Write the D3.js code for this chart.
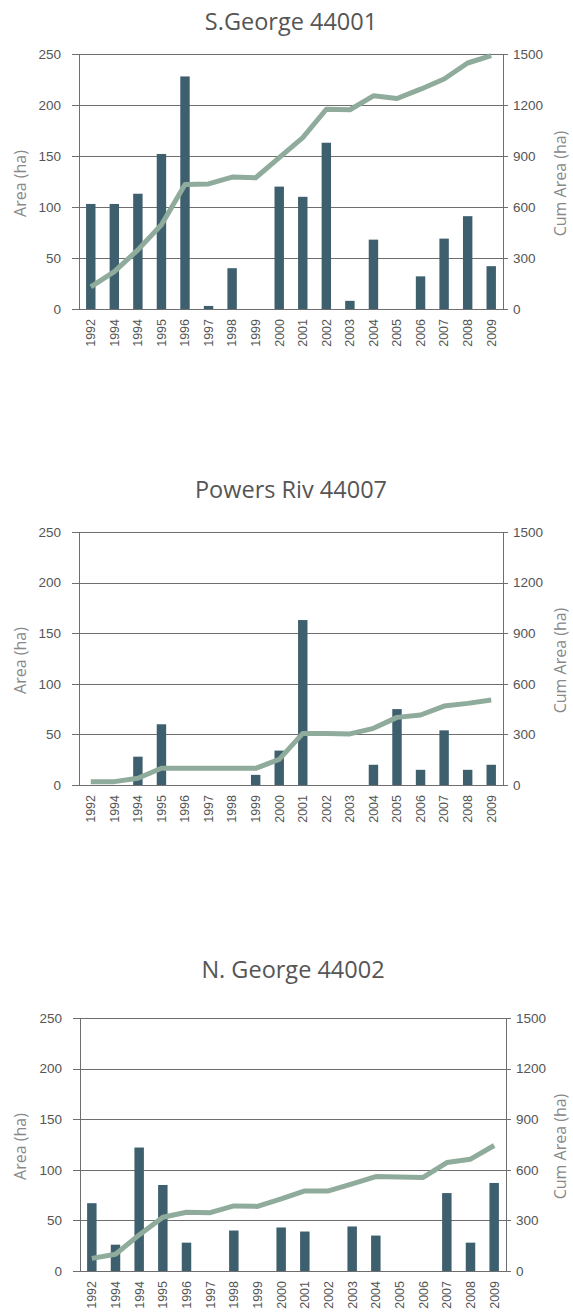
<!DOCTYPE html>
<html>
<head>
<meta charset="utf-8">
<script src="https://cdn.jsdelivr.net/npm/d3@7"></script>
<style>
  body { margin: 0; background: #fff; }
  svg { display: block; font-family: "Open Sans", sans-serif; }
</style>
</head>
<body>
<svg id="chart" width="573" height="1314"></svg>
<script>
// year labels (1994 appears twice in the original)
var years = ["1992","1994","1994","1995","1996","1997","1998","1999","2000",
             "2001","2002","2003","2004","2005","2006","2007","2008","2009"];

var titles = ["S.George 44001", "Powers Riv 44007", "N. George 44002"];

var areaSG = [103,103,113,152,228,3,40,0,120,110,163,8,68,0,32,69,91,42];
var cumSG  = [130,220,348,496,732,736,776,772,890,1008,1175,1172,1254,1238,1293,1353,1447,1490];

var areaPR = [0,0,28,60,0,0,0,10,34,163,0,0,20,75,15,54,15,20];
var cumPR  = [20,20,40,99,99,99,99,99,152,306,306,303,336,401,415,468,484,504];

var areaNG = [67,26,122,85,28,0,40,0,43,39,0,44,35,0,0,77,28,87];
var cumNG  = [75,99,214,319,348,346,386,383,427,475,475,516,560,557,555,643,663,744];

var areaTicks = [0,50,100,150,200,250];
var cumTicks  = [0,300,600,900,1200,1500];

var barColor = "#3d5f6e", lineColor = "#8fab9b";

var svg = d3.select("#chart");

function panel(title, area, cum, left, right, top, bottom, titleY) {
    var g = svg.append("g");
    var w = right - left;

    var x = d3.scaleBand()
        .domain(d3.range(years.length))
        .range([left, right])
        .paddingInner(0.6)
        .paddingOuter(0.3);
    var y = d3.scaleLinear().domain([0, 250]).range([bottom, top]);
    var y2 = d3.scaleLinear().domain([0, 1500]).range([bottom, top]);

    g.append("text")
        .attr("x", (left + right) / 2)
        .attr("y", titleY)
        .attr("text-anchor", "middle")
        .attr("font-size", 23.5)
        .attr("fill", "#555")
        .text(title);

    // gridlines + left tick labels
    var grid = g.append("g")
        .attr("transform", "translate(" + (left - 7) + ",0)")
        .call(d3.axisLeft(y).tickValues(areaTicks).tickSize(-(w + 12)).tickPadding(11));
    grid.select(".domain").remove();
    grid.selectAll("line").attr("stroke", "#6e6e6e").attr("shape-rendering", "crispEdges");
    grid.selectAll("text").attr("fill", "#555").attr("font-size", 13.5);

    // right tick labels
    var ra = g.append("g")
        .attr("transform", "translate(" + (right + 5) + ",0)")
        .call(d3.axisRight(y2).tickValues(cumTicks).tickSize(0).tickPadding(5)
            .tickFormat(d3.format("d")));
    ra.select(".domain").remove();
    ra.selectAll("text").attr("fill", "#555").attr("font-size", 13.5);

    // vertical axis lines
    g.append("line").attr("x1", left).attr("x2", left).attr("y1", top).attr("y2", bottom)
        .attr("stroke", "#6e6e6e").attr("shape-rendering", "crispEdges");
    g.append("line").attr("x1", right).attr("x2", right).attr("y1", top).attr("y2", bottom)
        .attr("stroke", "#6e6e6e").attr("shape-rendering", "crispEdges");

    // bottom labels
    var xa = g.append("g")
        .attr("transform", "translate(0," + bottom + ")")
        .call(d3.axisBottom(x).tickSize(0).tickFormat(function (i) { return years[i]; }));
    xa.select(".domain").remove();
    xa.selectAll("text")
        .attr("transform", "rotate(-90)")
        .attr("x", -10)
        .attr("y", 0)
        .attr("dy", "0.35em")
        .attr("text-anchor", "end")
        .attr("fill", "#555")
        .attr("font-size", 12.5);

    // bars
    g.selectAll(".bar")
        .data(area)
        .enter()
        .append("rect")
        .attr("class", "bar")
        .attr("x", function (d, i) { return x(i); })
        .attr("width", x.bandwidth())
        .attr("y", function (d) { return y(d); })
        .attr("height", function (d) { return bottom - y(d); })
        .attr("fill", barColor);

    // cumulative line
    var line = d3.line()
        .x(function (d, i) { return x(i) + x.bandwidth() / 2; })
        .y(function (d) { return y2(d); });
    g.append("path")
        .datum(cum)
        .attr("d", line)
        .attr("fill", "none")
        .attr("stroke", lineColor)
        .attr("stroke-width", 5)
        .attr("stroke-linejoin", "round");

    // axis titles
    var mid = (top + bottom) / 2 + 2;
    g.append("text")
        .attr("transform", "translate(20," + mid + ") rotate(-90)")
        .attr("text-anchor", "middle")
        .attr("dy", "0.35em")
        .attr("font-size", 16)
        .attr("fill", "#888")
        .text("Area (ha)");
    g.append("text")
        .attr("transform", "translate(560," + mid + ") rotate(-90)")
        .attr("text-anchor", "middle")
        .attr("dy", "0.35em")
        .attr("font-size", 16)
        .attr("fill", "#888")
        .text("Cum Area (ha)");
}

panel(titles[0], areaSG, cumSG, 79, 503, 54, 309, 30);
panel(titles[1], areaPR, cumPR, 79, 503, 532, 785, 498);
panel(titles[2], areaNG, cumNG, 80, 506, 1018, 1271, 978);
</script>
</body>
</html>
